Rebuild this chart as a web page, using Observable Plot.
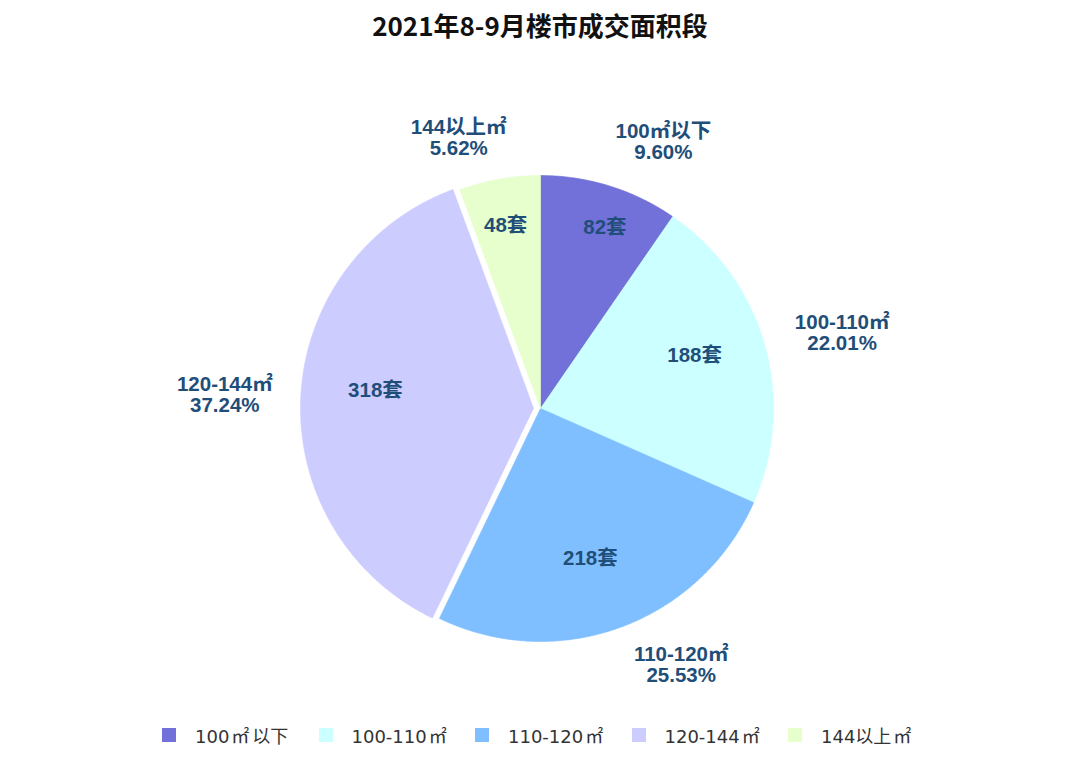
<!DOCTYPE html>
<html>
<head>
<meta charset="utf-8">
<script src="https://cdn.jsdelivr.net/npm/d3@7"></script>
<script src="https://cdn.jsdelivr.net/npm/@observablehq/plot@0.6"></script>
<style>
  html, body { margin: 0; padding: 0; background: #fff; width: 1080px; height: 765px; overflow: hidden; }
  #title { height: 50px; line-height: 50px; text-align: center; font-family: "Noto Sans CJK SC", sans-serif; font-weight: bold; font-size: 26px; color: #111; }
  #chart { height: 660px; }
  #legend { display: flex; padding-left: 162px; margin-top: 13px; height: 24px; align-items: center; font-family: "DejaVu Sans", "Noto Sans CJK SC", sans-serif; font-size: 18px; color: #333; }
  .item { width: 156.5px; display: flex; align-items: center; white-space: nowrap; }
  .sw { width: 14px; height: 14px; margin-right: 19px; flex: none; }
  .u { margin-left: 2px; margin-right: 3px; }
</style>
</head>
<body>
<div id="title">2021年8-9月楼市成交面积段</div>
<div id="chart"></div>
<div id="legend"></div>
<script>
// ---- data ----
const categories = ["100㎡以下", "100-110㎡", "110-120㎡", "120-144㎡", "144以上㎡"];
const counts = [82, 188, 218, 318, 48];
const percents = ["9.60%", "22.01%", "25.53%", "37.24%", "5.62%"];
const colors = ["#7171d9", "#ccffff", "#80bfff", "#ccccff", "#e6ffcc"];

// ---- layout (pixels / degrees) ----
const W = 1080, H = 660, R = 233;
const centerTop = 358; // pie centre distance from top of svg
const explode = [0, 0, 0, 7, 0];
const innerLabelPolar = [[19.6, 192], [71, 163], [161.6, 158], [276.2, 166], [349.2, 186]];
const outerLabelPolar = [[24.7, 294], [75.9, 311], [151.2, 292], [272.5, 316], [343.2, 283]];

const pie = d3.pie().sort(null).value(d => d)(counts);
const rad = Math.PI / 180;

const slicePts = [];
pie.forEach((p, i) => {
  const mid = (p.startAngle + p.endAngle) / 2;
  const ox = explode[i] * Math.sin(mid), oy = explode[i] * Math.cos(mid);
  slicePts.push({cat: categories[i], x: ox, y: oy});
  const n = Math.max(4, Math.ceil((p.endAngle - p.startAngle) / (0.5 * rad)));
  for (let k = 0; k <= n; k++) {
    const a = p.startAngle + (p.endAngle - p.startAngle) * k / n;
    slicePts.push({cat: categories[i], x: ox + R * Math.sin(a), y: oy + R * Math.cos(a)});
  }
  slicePts.push({cat: categories[i], x: ox, y: oy});
});

const inner = categories.map((c, i) => ({
  x: innerLabelPolar[i][1] * Math.sin(innerLabelPolar[i][0] * rad),
  y: innerLabelPolar[i][1] * Math.cos(innerLabelPolar[i][0] * rad),
  text: counts[i] + "套"
}));
const outer = categories.map((c, i) => ({
  x: outerLabelPolar[i][1] * Math.sin(outerLabelPolar[i][0] * rad),
  y: outerLabelPolar[i][1] * Math.cos(outerLabelPolar[i][0] * rad),
  text: c + "\n" + percents[i]
}));

const chart = Plot.plot({
  width: W, height: H, margin: 0,
  x: {domain: [-W / 2, W / 2], axis: null},
  y: {domain: [-(H - centerTop), centerTop], axis: null},
  color: {domain: categories, range: colors},
  style: {background: "white"},
  marks: [
    Plot.line(slicePts, {x: "x", y: "y", z: "cat", fill: "cat", stroke: "cat", strokeWidth: 0.6, curve: "linear"}),
    Plot.text(inner, {x: "x", y: "y", text: "text", fill: "#1f4e79", fontSize: 20.5, fontWeight: "bold",
      fontFamily: "'Liberation Sans', 'Noto Sans CJK SC', sans-serif"}),
    Plot.text(outer, {x: "x", y: "y", text: "text", fill: "#1f4e79", fontSize: 20.5, fontWeight: "bold", lineHeight: 1.05,
      fontFamily: "'Liberation Sans', 'Noto Sans CJK SC', sans-serif"})
  ]
});
document.getElementById("chart").appendChild(chart);

const legend = document.getElementById("legend");
categories.forEach((c, i) => {
  const it = document.createElement("div");
  it.className = "item";
  const sw = document.createElement("span");
  sw.className = "sw";
  sw.style.background = colors[i];
  const t = document.createElement("span");
  const parts = c.split("㎡");
  t.appendChild(document.createTextNode(parts[0]));
  const u = document.createElement("span");
  u.className = "u";
  u.textContent = "㎡";
  t.appendChild(u);
  t.appendChild(document.createTextNode(parts[1]));
  it.appendChild(sw); it.appendChild(t);
  legend.appendChild(it);
});
</script>
</body>
</html>
